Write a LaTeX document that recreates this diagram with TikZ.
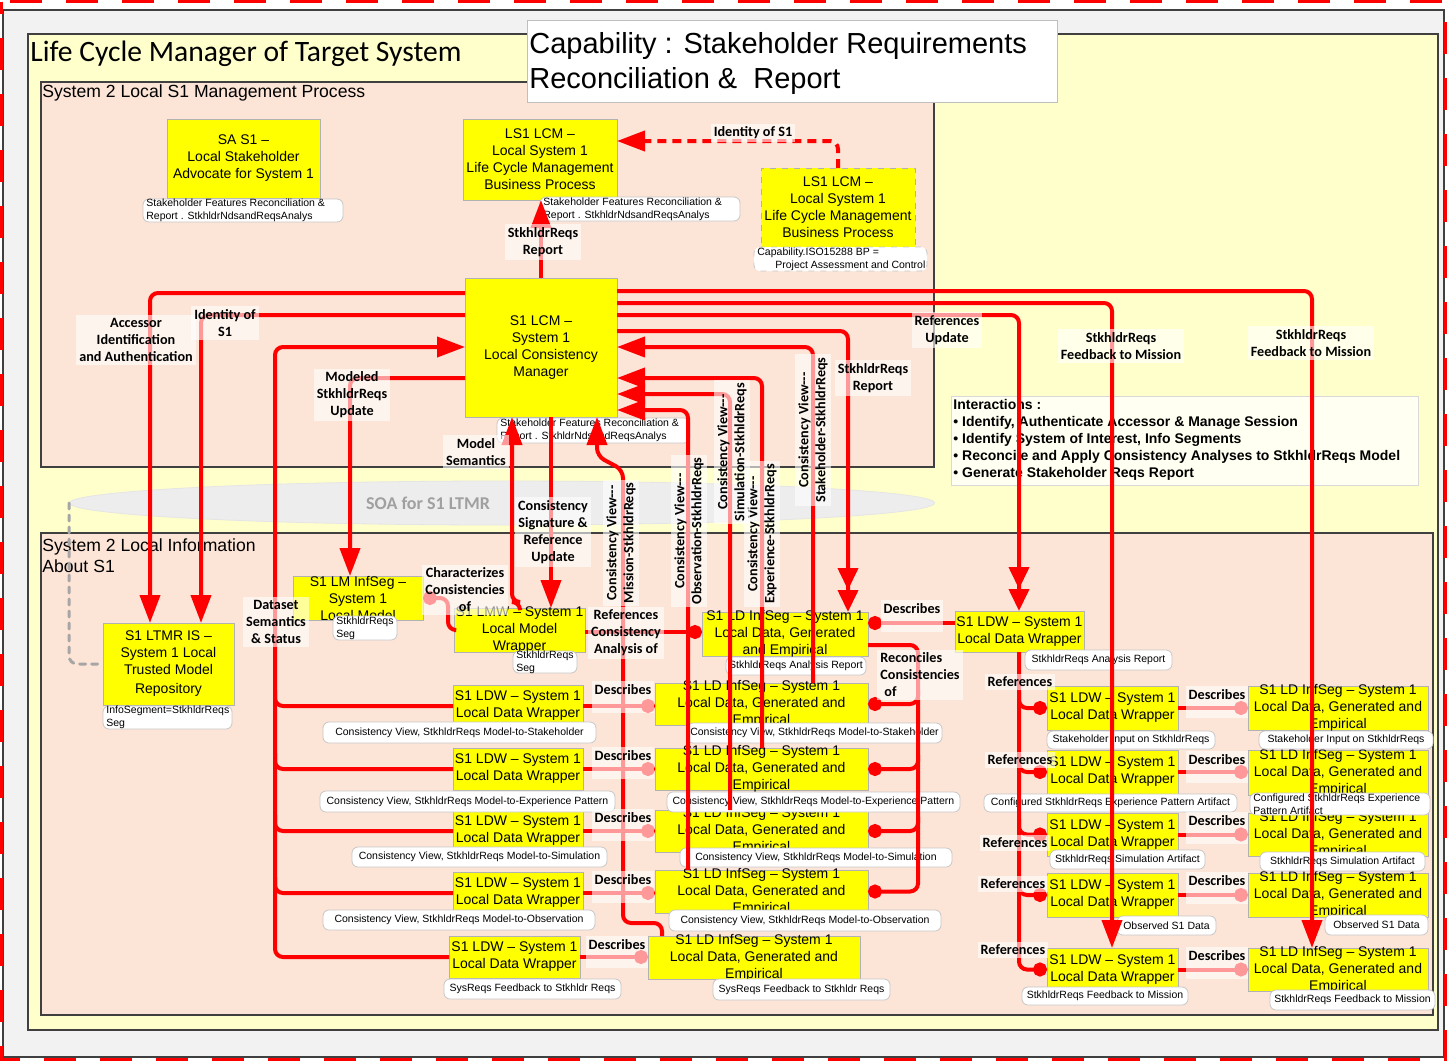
\documentclass[tikz,border=0pt]{standalone}
\usepackage{fontspec}
\setmainfont{Liberation Sans}
\newfontfamily\calfont{Carlito}
\usetikzlibrary{arrows.meta,shapes.geometric}

\definecolor{boxyellow}{HTML}{FFFF00}
\definecolor{peach}{HTML}{FCE4D6}
\definecolor{pale}{HTML}{FFFFCC}
\definecolor{bggray}{HTML}{F2F2F2}
\definecolor{framegray}{HTML}{404040}
\definecolor{soagray}{HTML}{EDEDED}
\definecolor{soatext}{HTML}{A0A0A0}
\definecolor{dotgray}{HTML}{A6A6A6}

\tikzset{
  ybox/.style={draw=black!30, line width=0.4pt, fill=boxyellow, inner sep=0pt, outer sep=0pt},
  ytext/.style={align=center, font=\fontsize{7}{8.5}\selectfont, inner sep=0pt},
  notebox/.style={draw=black!22, line width=0.4pt, fill=white, rounded corners=3pt, inner sep=0pt, outer sep=0pt},
  notetext/.style={font=\fontsize{5.25}{6.3}\selectfont, inner sep=0pt, align=left},
  wire/.style={draw=red, line width=2pt, rounded corners=4pt},
  arr/.style={-{Triangle[length=14pt,width=10pt]}},
  arrtwo/.style={-{Triangle[length=11pt,width=10pt]Triangle[length=11pt,width=10pt]}},
  dotend/.style={-{Circle[length=7pt]}},
  dotstart/.style={{Circle[length=7pt]}-},
  lblbase/.style={font=\calfont\bfseries\fontsize{7.1}{8.5}\selectfont, fill=white, fill opacity=0.6, text opacity=1, inner sep=1.5pt},
  lbl/.style={lblbase, align=center},
  descr/.style={lblbase, text depth=8pt, anchor=base},
  vlbl/.style={lbl, rotate=90},
  panel/.style={draw=framegray, line width=0.75pt},
}

% yellow process box: name, x1, y1, x2, y2, text
\newcommand\YB[7][]{%
  \node[ybox,#1,minimum width={(#5-#3)*0.5pt},minimum height={(#6-#4)*0.5pt}] (#2) at ({(#3+#5)/2},{(#4+#6)/2}) {};
  \node[ytext] (#2-t) at (#2.center) {#7};}
% white annotation, centred text
\newcommand\NT[7][]{%
  \node[notebox,#1,minimum width={(#5-#3)*0.5pt},minimum height={(#6-#4)*0.5pt}] (#2) at ({(#3+#5)/2},{(#4+#6)/2}) {};
  \node[notetext] (#2-t) at (#2.center) {#7};}
% white annotation, left-aligned text
\newcommand\NTL[7][]{%
  \node[notebox,#1,minimum width={(#5-#3)*0.5pt},minimum height={(#6-#4)*0.5pt}] (#2) at ({(#3+#5)/2},{(#4+#6)/2}) {};
  \node[notetext,anchor=west] (#2-t) at ([xshift=1.5pt]#2.west) {#7};}

\begin{document}
\begin{tikzpicture}[x=0.5pt,y=-0.5pt]
\useasboundingbox (0,0) rectangle (1447,1061);

% ground and frames
\draw[panel, fill=bggray] (3,10) rectangle (1444,1057);
\draw[red, line width=1.5pt, dash pattern=on 16pt off 12pt, dash phase=10pt] (1.5,1.5) rectangle (1445.5,1059.5);
\draw[panel, fill=pale] (28,34) rectangle (1438,1030);
\node[anchor=west, inner sep=0pt, font=\calfont\fontsize{14.8}{17}\selectfont] (ttl) at (30,54) {Life Cycle Manager of Target System};
\draw[panel, fill=peach] (41,82) rectangle (934,467);
\node[anchor=west, inner sep=0pt, font=\fontsize{8.8}{10.5}\selectfont] (upt) at (42,93) {System 2 Local S1 Management Process};
\draw[panel, fill=peach] (41,533) rectangle (1433,1015);
\node[anchor=north west, align=left, inner sep=0pt, font=\fontsize{8.8}{10.5}\selectfont] (lowt) at (42,538) {System 2 Local Information\\About S1};

% service bus
\node[ellipse, fill=soagray, draw=black!10, minimum width=432.5pt, minimum height=22pt, inner sep=0pt] (soa) at (502,503) {};
\node[font=\calfont\bfseries\fontsize{9}{10}\selectfont, text=soatext] (soat) at (428,503) {SOA for S1 LTMR};

% capability heading
\node[draw=black!25, fill=white, line width=0.5pt, minimum width=265pt, minimum height=41pt, inner sep=0pt] (capbox) at (792,61) {};
\node[anchor=west, align=left, inner sep=0pt, font=\fontsize{14.5}{17.5}\selectfont] (cap) at (529,63) {Capability : Stakeholder Requirements\\Reconciliation \& \ Report};

% process boxes
\YB{sa}{167}{119}{320}{198}{SA S1 --\\Local Stakeholder\\Advocate for System 1}
\YB{lsA}{463}{119}{617}{200}{LS1 LCM --\\Local System 1\\Life Cycle Management\\Business Process}
\YB[dashed]{lsB}{761}{168}{915}{247}{LS1 LCM --\\Local System 1\\Life Cycle Management\\Business Process}
\YB{lcm}{465}{278}{617}{417}{S1 LCM --\\System 1\\Local Consistency\\Manager}
\YB{ltmr}{103}{623}{234}{705}{S1 LTMR IS --\\System 1 Local\\Trusted Model\\[1pt]Repository}
\YB{lmis}{293}{576}{423}{620}{S1 LM InfSeg --\\System 1\\Local Model}
\YB{lmw}{454}{608}{585}{652}{S1 LMW -- System 1\\Local Model\\Wrapper}
\YB{ldt}{702}{612}{868}{656}{S1 LD InfSeg -- System 1\\Local Data, Generated\\and Empirical}
\YB{ldwt}{955}{611}{1084}{652}{S1 LDW -- System 1\\Local Data Wrapper}

\YB{mw1}{453}{685}{583}{727}{S1 LDW -- System 1\\Local Data Wrapper}
\YB{mw2}{453}{748}{583}{790}{S1 LDW -- System 1\\Local Data Wrapper}
\YB{mw3}{453}{810}{583}{852}{S1 LDW -- System 1\\Local Data Wrapper}
\YB{mw4}{453}{872}{583}{914}{S1 LDW -- System 1\\Local Data Wrapper}
\YB{mw5}{449}{936}{580}{978}{S1 LDW -- System 1\\Local Data Wrapper}

\YB{md1}{655}{683}{868}{725}{S1 LD InfSeg -- System 1\\Local Data, Generated and\\Empirical}
\YB{md2}{655}{748}{868}{790}{S1 LD InfSeg -- System 1\\Local Data, Generated and\\Empirical}
\YB{md3}{655}{810}{868}{852}{S1 LD InfSeg -- System 1\\Local Data, Generated and\\Empirical}
\YB{md4}{655}{870}{868}{913}{S1 LD InfSeg -- System 1\\Local Data, Generated and\\Empirical}
\YB{md5}{648}{936}{860}{979}{S1 LD InfSeg -- System 1\\Local Data, Generated and\\Empirical}

\YB{rwA}{1047}{686}{1178}{730}{S1 LDW -- System 1\\Local Data Wrapper}
\YB{rwB}{1047}{750}{1178}{794}{S1 LDW -- System 1\\Local Data Wrapper}
\YB{rwC}{1047}{813}{1178}{856}{S1 LDW -- System 1\\Local Data Wrapper}
\YB{rwD}{1047}{873}{1178}{917}{S1 LDW -- System 1\\Local Data Wrapper}
\YB{rwE}{1047}{948}{1178}{991}{S1 LDW -- System 1\\Local Data Wrapper}

\YB{rdA}{1248}{686}{1428}{730}{S1 LD InfSeg -- System 1\\Local Data, Generated and\\Empirical}
\YB{rdB}{1248}{750}{1428}{795}{S1 LD InfSeg -- System 1\\Local Data, Generated and\\Empirical}
\YB{rdC}{1248}{813}{1428}{856}{S1 LD InfSeg -- System 1\\Local Data, Generated and\\Empirical}
\YB{rdD}{1248}{873}{1428}{917}{S1 LD InfSeg -- System 1\\Local Data, Generated and\\Empirical}
\YB{rdE}{1248}{948}{1428}{991}{S1 LD InfSeg -- System 1\\Local Data, Generated and\\Empirical}

% annotations
\NTL{nsa}{143}{199}{343}{222}{Stakeholder Features Reconciliation \&\\Report . StkhldrNdsandReqsAnalys}
\NTL{nlsA}{540}{197}{740}{221}{Stakeholder Features Reconciliation \&\\Report . StkhldrNdsandReqsAnalys}
\NTL[dashed]{nlsB}{754}{247}{927}{271}{Capability.ISO15288 BP =\\\hspace*{9pt}Project Assessment and Control}
\NTL{nlcm}{497}{418}{690}{443}{Stakeholder Features Reconciliation \&\\Report . StkhldrNdsandReqsAnalys}
\NTL{nltmr}{103}{706}{232}{729}{InfoSegment=StkhldrReqs\\Seg}
\NTL{nlmis}{333}{616}{397}{640}{StkhldrReqs\\Seg}
\NTL{nlmw}{513}{651}{577}{673}{StkhldrReqs\\Seg}
\NT{nldt}{726}{657}{866}{675}{StkhldrReqs Analysis Report}
\NT{nldwt}{1025}{650}{1172}{670}{StkhldrReqs Analysis Report}

\NT{nmw1}{323}{722}{596}{743}{Consistency View, StkhldrReqs Model-to-Stakeholder}
\NT{nmw2}{320}{791}{615}{812}{Consistency View, StkhldrReqs Model-to-Experience Pattern}
\NT{nmw3}{352}{847}{607}{867}{Consistency View, StkhldrReqs Model-to-Simulation}
\NT{nmw4}{323}{910}{595}{930}{Consistency View, StkhldrReqs Model-to-Observation}
\NT{nmw5}{444}{979}{621}{999}{SysReqs Feedback to Stkhldr Reqs}
\NT{nmd1}{687}{723}{942}{743}{Consistency View, StkhldrReqs Model-to-Stakeholder}
\NT{nmd2}{667}{792}{960}{812}{Consistency View, StkhldrReqs Model-to-Experience Pattern}
\NT{nmd3}{680}{848}{952}{867}{Consistency View, StkhldrReqs Model-to-Simulation}
\NT{nmd4}{669}{910}{941}{931}{Consistency View, StkhldrReqs Model-to-Observation}
\NT{nmd5}{713}{979}{890}{1000}{SysReqs Feedback to Stkhldr Reqs}

\NT{nrwA}{1047}{731}{1215}{749}{Stakeholder Input on StkhldrReqs}
\NT{nrwB}{984}{794}{1237}{812}{Configured StkhldrReqs Experience Pattern Artifact}
\NT{nrwC}{1050}{850}{1205}{869}{StkhldrReqs Simulation Artifact}
\NT{nrwD}{1117}{916}{1216}{935}{Observed S1 Data}
\NT{nrwE}{1022}{987}{1188}{1005}{StkhldrReqs Feedback to Mission}
\NT{nrdA}{1259}{731}{1433}{749}{Stakeholder Input on StkhldrReqs}
\NTL{nrdB}{1250}{793}{1430}{815}{Configured StkhldrReqs Experience\\Pattern Artifact}
\NT{nrdC}{1260}{852}{1425}{871}{StkhldrReqs Simulation Artifact}
\NT{nrdD}{1325}{915}{1428}{935}{Observed S1 Data}
\NT{nrdE}{1270}{990}{1435}{1010}{StkhldrReqs Feedback to Mission}

% interactions summary
\node[draw=black!15, fill=white!75!pale, minimum width=233.5pt, minimum height=44.5pt, inner sep=0pt] (inter) at (1184.5,440.5) {};
\node[anchor=north west, align=left, inner sep=0pt, font=\bfseries\fontsize{7}{8.5}\selectfont] (inter-t) at (953,399) {Interactions :\\\textbullet\ Identify, Authenticate Accessor \& Manage Session\\\textbullet\ Identify System of Interest, Info Segments\\\textbullet\ Reconcile and Apply Consistency Analyses to StkhldrReqs Model\\\textbullet\ Generate Stakeholder Reqs Report};

% repository link to the service bus
\draw[dotgray, line width=1.5pt, dash pattern=on 3pt off 3pt, line cap=round, rounded corners=4pt] (soa.west) |- (ltmr.west);

% connectors from the consistency manager, left side
\draw[wire,arr] (lcm.west |- 0,293) -| (ltmr.north -| 150,0);
\draw[wire,arr] (lcm.west |- 0,315) -| (ltmr.north -| 201,0);
\draw[wire,arr] (mw5.west) -| (275,347) -- (lcm.west |- 0,347);
\draw[wire] (275,690) |- (mw1.west);
\draw[wire] (275,753) |- (mw2.west);
\draw[wire] (275,815) |- (mw3.west);
\draw[wire] (275,877) |- (mw4.west);
\draw[wire,arr] (lcm.west |- 0,378) -| (lmis.north -| 350,0);

% upwards to the life cycle process
\draw[wire,arr] (lcm.north) -- (lcm.north |- lsA.south);
\draw[wire,dash pattern=on 4.5pt off 3pt,arr] (lsB.north -| 838,0) |- (lsA.east |- 0,141);

% connectors from the consistency manager, right side
\draw[wire,arr] (lcm.east |- 0,291) -| (rdE.north -| 1312,0);
\draw[wire,arr] (lcm.east |- 0,303) -| (rwE.north -| 1112,0);
\draw[wire,arrtwo] (lcm.east |- 0,315) -| (ldwt.north -| 1019,0);
\draw[wire,arrtwo] (lcm.east |- 0,331) -| (ldt.north -| 848,0);
\draw[wire,arr] (md1.north -| 813,0) |- (lcm.east |- 0,347);
\draw[wire,arr] (md2.north -| 762,0) |- (lcm.east |- 0,378);
\draw[wire,arr] (md3.north -| 730,0) |- (lcm.east |- 0,394);
\draw[wire,arr] (md4.north -| 688,0) |- (lcm.east |- 0,410);

% connectors under the consistency manager
\draw[wire,arr] (md5.north -| 662,0) |- (623,923) -- (623,470) -- (597,456) -- (lcm.south -| 597,0);
\draw[wire,arr] (lmw.north -| 520,0) -- (520,602) -| (lcm.south -| 512,0);
\draw[wire,arr] (lcm.south -| 551,0) -- (lmw.north -| 551,0);

% model and data links
\draw[wire,dotstart] (lmis.east) -- (448,598) |- (lmw.west);
\draw[wire,dotend] (lmw.east |- 0,632) -- (ldt.west |- 0,632);
\draw[wire,dotend] (ldwt.west |- 0,623) -- (ldt.east |- 0,623);
\draw[wire,dotend] (ldt.east |- 0,645) -- (918,645) |- (md4.east);
\draw[wire,dotend] (918,690) |- (md1.east);
\draw[wire,dotend] (918,755) |- (md2.east);
\draw[wire,dotend] (918,817) |- (md3.east);
\draw[wire,dotend] (ldwt.south -| 1019,0) |- (rwE.west);
\draw[wire,dotend] (1019,692) |- (rwA.west);
\draw[wire,dotend] (1019,757) |- (rwB.west);
\draw[wire,dotend] (1019,819) |- (rwC.west);
\draw[wire,dotend] (1019,880) |- (rwD.west);
\foreach \i in {1,2,3,4,5} \draw[wire,dotend] (mw\i.east) -- (md\i.west |- mw\i.east);
\foreach \i in {A,B,C,D,E} \draw[wire,dotend] (rw\i.east) -- (rd\i.west |- rw\i.east);

% connector labels
\node[lbl] (l1) at (543,242) {StkhldrReqs\\Report};
\node[lbl] (l2) at (753,133) {Identity of S1};
\node[lbl] (l3) at (136,340) {Accessor\\Identification\\and Authentication};
\node[lbl] (l4) at (225,323) {Identity of\\S1};
\node[lbl] (l5) at (352,395) {Modeled\\StkhldrReqs\\Update};
\node[lbl] (l6) at (476,452) {Model\\Semantics};
\node[lbl] (l7) at (553,532) {Consistency\\Signature \&\\Reference\\Update};
\node[lbl] (l8) at (465,590) {Characterizes\\Consistencies\\of};
\node[lbl] (l9) at (276,622) {Dataset\\Semantics\\\& Status};
\node[lbl] (l10) at (626,633) {References\\Consistency\\Analysis of};
\node[descr] (l11) at (912,613) {Describes};
\node[lbl, align=left, anchor=west] (l12) at (877,675) {Reconciles\\Consistencies\\\hspace*{2pt}of};
\node[lbl] (l13) at (947,330) {References\\Update};
\node[lbl] (l14) at (1121,346) {StkhldrReqs\\Feedback to Mission};
\node[lbl] (l15) at (1311,343) {StkhldrReqs\\Feedback to Mission};
\node[lbl] (l16) at (873,378) {StkhldrReqs\\Report};

\node[lbl] (ref1) at (1020,682) {References};
\node[lbl] (ref2) at (1020,760) {References};
\node[lbl] (ref3) at (1015,843) {References};
\node[lbl] (ref4) at (1013,884) {References};
\node[lbl] (ref5) at (1013,950) {References};

\node[descr] (dm1) at (623,694) {Describes};
\node[descr] (dm2) at (623,760) {Describes};
\node[descr] (dm3) at (623,822) {Describes};
\node[descr] (dm4) at (623,884) {Describes};
\node[descr] (dm5) at (617,949) {Describes};
\node[descr] (dr1) at (1217,699) {Describes};
\node[descr] (dr2) at (1217,764) {Describes};
\node[descr] (dr3) at (1217,825) {Describes};
\node[descr] (dr4) at (1217,885) {Describes};
\node[descr] (dr5) at (1217,960) {Describes};

\node[vlbl] (v1) at (813,430) {Consistency View---\\Stakeholder-StkhldrReqs};
\node[vlbl] (v2) at (762,534) {Consistency View---\\Experience-StkhldrReqs};
\node[vlbl] (v3) at (732,452) {Consistency View---\\Simulation-StkhldrReqs};
\node[vlbl] (v4) at (689,531) {Consistency View---\\Observation-StkhldrReqs};
\node[vlbl] (v5) at (621,543) {Consistency View---\\Mission-StkhldrReqs};

\end{tikzpicture}
\end{document}
